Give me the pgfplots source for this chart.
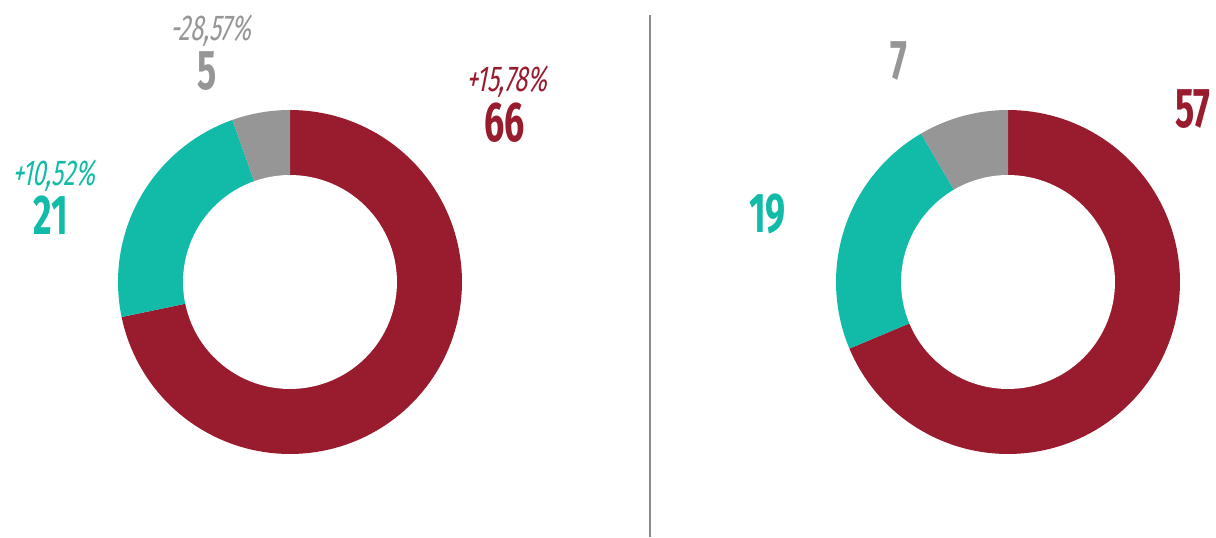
\documentclass[border=0pt]{standalone}
\usepackage{pgfplots}
\pgfplotsset{compat=1.18}
\usepackage{pgfplotstable}
\usepackage{fontspec}
\setmainfont{Fira Sans}
\newfontfamily\numfont[FakeStretch=0.64]{Fira Sans}
\newfontfamily\pctfont[FakeStretch=0.66, FakeSlant=0.2]{Fira Sans}
\definecolor{dred}{HTML}{981B2E}
\definecolor{teal2}{HTML}{12BBA7}
\definecolor{gry}{HTML}{959695}
\definecolor{lne}{HTML}{8A8A8A}

\pgfplotstableread{
label value
A 66
B 21
C 5
}\lefttable
\pgfplotstableread{
label value
A 57
B 19
C 7
}\righttable

\newcommand\getvals[1]{%
  \pgfplotstablegetelem{0}{value}\of#1\edef\dnvA{\pgfplotsretval}%
  \pgfplotstablegetelem{1}{value}\of#1\edef\dnvB{\pgfplotsretval}%
  \pgfplotstablegetelem{2}{value}\of#1\edef\dnvC{\pgfplotsretval}%
  \pgfmathsetmacro\dntot{\dnvA+\dnvB+\dnvC}%
  \pgfmathsetmacro\dnaB{90-360*(\dnvA/\dntot)}%
  \pgfmathsetmacro\dnaC{\dnaB-360*(\dnvB/\dntot)}%
}

\pgfplotsset{donut/.style={
  scale only axis, width=172pt, height=172pt,
  xmin=-1, xmax=1, ymin=-1, ymax=1, hide axis, anchor=center}}

\newcommand\drawdonut{%
  \addplot[fill=dred, draw=none, domain=\dnaB:90, samples=120] ({cos(x)},{sin(x)}) -- (axis cs:0,0) -- cycle;
  \addplot[fill=teal2, draw=none, domain=\dnaC:\dnaB, samples=60] ({cos(x)},{sin(x)}) -- (axis cs:0,0) -- cycle;
  \addplot[fill=gry, draw=none, domain=-270:\dnaC, samples=40] ({cos(x)},{sin(x)}) -- (axis cs:0,0) -- cycle;
  \addplot[fill=white, draw=none, domain=0:360, samples=120] ({0.622*cos(x)},{0.622*sin(x)}) -- cycle;
}

\begin{document}
\begin{tikzpicture}
\path[use as bounding box] (0,0) rectangle (608pt,268.5pt);
\getvals{\lefttable}
\begin{axis}[donut, at={(145pt,127.5pt)}]
\drawdonut
\end{axis}
\getvals{\righttable}
\begin{axis}[donut, at={(504pt,127.5pt)}]
\drawdonut
\end{axis}
\draw[lne, line width=0.8pt] (325pt,0pt) -- (325pt,261pt);
% labels
\tikzset{num/.style={inner sep=0pt, anchor=center, font=\numfont\bfseries\fontsize{28}{28}\selectfont},
         pct/.style={inner sep=0pt, anchor=center, font=\pctfont\fontsize{18}{18}\selectfont}}
\node[pct, text=gry] at (105.5pt,253pt) {-28,57\%};
\node[num, text=gry] at (103.75pt,233pt) {5};
\node[pct, text=dred] at (253.5pt,227.5pt) {+15,78\%};
\node[num, text=dred] at (252.25pt,207.25pt) {66};
\node[pct, text=teal2] at (26.75pt,180.5pt) {+10,52\%};
\node[num, text=teal2] at (25.5pt,161pt) {21};
\node[num, text=gry] at (449.25pt,238pt) {7};
\node[num, text=dred] at (596.25pt,214pt) {57};
\node[num, text=teal2] at (383.75pt,161.5pt) {19};
\end{tikzpicture}
\end{document}
